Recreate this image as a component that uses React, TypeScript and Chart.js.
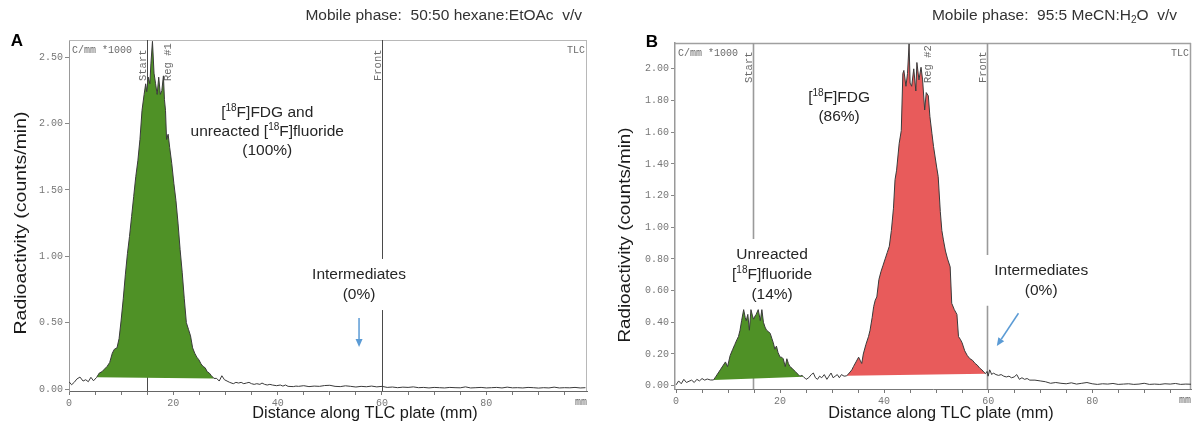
import React, { useEffect, useRef } from 'react';
import { Chart, registerables } from 'chart.js';

Chart.register(...registerables);

type Pt = [number, number];

// ================= Panel A : 50:50 hexane:EtOAc =================
const traceA_before: Pt[] = [
  [0, 0.055], [0.5, 0.032], [1, 0.05], [1.5, 0.075], [2.1, 0.09], [2.7, 0.06],
  [3.2, 0.07], [3.7, 0.055], [4.2, 0.088], [4.7, 0.062],
];
const peakA_fdgFluoride: Pt[] = [
  [5.3, 0.088], [5.8, 0.12], [6.3, 0.13], [6.8, 0.15], [7.3, 0.17], [7.8, 0.2],
  [8.3, 0.27], [8.7, 0.3], [9.2, 0.31], [9.6, 0.38], [10.0, 0.52], [10.4, 0.68],
  [10.8, 0.86], [11.2, 1.02], [11.6, 1.15], [12.0, 1.3], [12.4, 1.45], [12.8, 1.6],
  [13.2, 1.72], [13.6, 1.88], [14.0, 2.1], [14.4, 2.22], [14.7, 2.3], [14.9, 2.24],
  [15.2, 2.35], [15.5, 2.3], [15.7, 2.45], [16.0, 2.62], [16.3, 2.38], [16.6, 2.3],
  [16.9, 2.22], [17.2, 2.35], [17.5, 2.22], [17.8, 2.25], [18.1, 2.36], [18.3, 2.18],
  [18.5, 2.1], [18.7, 1.88], [19.0, 1.92], [19.3, 1.82], [19.7, 1.7], [20.1, 1.55],
  [20.5, 1.42], [20.9, 1.25], [21.3, 1.05], [21.7, 0.88], [22.1, 0.68], [22.5, 0.5],
  [22.9, 0.45], [23.3, 0.4], [23.7, 0.31], [24.1, 0.27], [24.5, 0.24], [24.9, 0.22],
  [25.3, 0.19], [25.7, 0.17], [26.1, 0.16], [26.5, 0.13], [26.9, 0.12], [27.3, 0.1],
  [27.8, 0.08],
];
const regionA_baseline: Pt[] = [[5.3, 0.088], [27.8, 0.08]];
const traceA_after: Pt[] = [
  [28.3, 0.08], [28.8, 0.06], [29.3, 0.1], [29.8, 0.07], [30.3, 0.06], [30.8, 0.05],
  [31.5, 0.04], [32, 0.05], [32.5, 0.045], [33, 0.05], [33.5, 0.04], [34, 0.045],
  [34.5, 0.05], [35, 0.04], [35.5, 0.035], [36, 0.04], [36.6, 0.035], [37, 0.045],
  [37.5, 0.035], [38, 0.03], [38.5, 0.035], [39, 0.03], [39.8, 0.025], [40.5, 0.03],
  [41, 0.022], [41.5, 0.03], [42, 0.02], [43, 0.018], [43.5, 0.022], [44, 0.02],
  [45, 0.025], [46, 0.018], [47, 0.022], [48, 0.02], [49, 0.026], [50, 0.028],
  [51, 0.02], [52, 0.018], [53, 0.024], [54, 0.02], [55, 0.015], [56, 0.02],
  [57, 0.017], [58, 0.022], [59, 0.016], [60, 0.02], [61, 0.012], [62, 0.015],
  [63, 0.01], [64, 0.014], [65, 0.012], [66, 0.016], [67, 0.01], [68, 0.012],
  [69, 0.008], [70, 0.012], [71, 0.01], [72, 0.008], [73, 0.012], [74, 0.01],
  [75, 0.009], [76, 0.016], [77, 0.008], [78, 0.01], [79, 0.012], [80, 0.008],
  [81, 0.01], [82, 0.012], [83, 0.008], [84, 0.014], [85, 0.009], [86, 0.01],
  [87, 0.008], [88, 0.012], [89, 0.01], [90, 0.007], [91, 0.01], [92, 0.008],
  [93, 0.014], [94, 0.008], [95, 0.01], [96, 0.009], [97, 0.012], [98, 0.008], [99, 0.01],
];

// ================= Panel B : 95:5 MeCN:H2O =================
const traceB_before: Pt[] = [
  [0, 0.005], [0.5, 0.03], [1, 0.012], [1.5, 0.04], [2, 0.02], [2.5, 0.028],
  [3, 0.035], [3.5, 0.02], [4, 0.04], [4.5, 0.03], [5, 0.045], [5.5, 0.035],
  [6, 0.042], [6.6, 0.036],
];
const peakB_fluoride: Pt[] = [
  [7.2, 0.036], [7.7, 0.06], [8.1, 0.08], [8.5, 0.1], [9.1, 0.13], [9.5, 0.15],
  [9.9, 0.12], [10.4, 0.19], [10.9, 0.23], [11.3, 0.26], [11.7, 0.29], [12.0, 0.31],
  [12.3, 0.35], [12.6, 0.41], [13.0, 0.48], [13.3, 0.43], [13.5, 0.41], [13.8, 0.45],
  [14.1, 0.35], [14.4, 0.48], [14.7, 0.44], [14.9, 0.42], [15.2, 0.44], [15.4, 0.45],
  [15.8, 0.48], [16.2, 0.41], [16.5, 0.48], [16.8, 0.4], [17.1, 0.37], [17.4, 0.35],
  [17.8, 0.34], [18.1, 0.33], [18.4, 0.3], [18.7, 0.27], [19.0, 0.23], [19.3, 0.25],
  [19.6, 0.21], [20.0, 0.18], [20.3, 0.18], [20.6, 0.17], [21.0, 0.12], [21.3, 0.17],
  [21.6, 0.14], [21.9, 0.12], [22.3, 0.11], [22.6, 0.1], [22.9, 0.09], [23.2, 0.08],
  [23.5, 0.07], [23.8, 0.06], [24.2, 0.065], [24.5, 0.057],
];
const regionB1_baseline: Pt[] = [[7.2, 0.036], [24.5, 0.057]];
const traceB_between: Pt[] = [
  [25, 0.04], [25.5, 0.05], [26, 0.07], [26.4, 0.08], [26.8, 0.05], [27.2, 0.04],
  [27.6, 0.06], [28, 0.05], [28.5, 0.07], [29, 0.04], [29.4, 0.06], [29.8, 0.08],
  [30.2, 0.05], [30.6, 0.06], [31, 0.07], [31.4, 0.05], [31.8, 0.07], [32.3, 0.06],
];
const peakB_fdg: Pt[] = [
  [32.8, 0.062], [33.3, 0.08], [33.8, 0.1], [34.1, 0.12], [34.6, 0.15], [35.1, 0.18],
  [35.4, 0.16], [35.7, 0.14], [36.0, 0.2], [36.5, 0.26], [37.0, 0.31], [37.3, 0.35],
  [37.7, 0.43], [38.0, 0.5], [38.3, 0.54], [38.6, 0.56], [39.0, 0.67], [39.4, 0.72],
  [39.8, 0.76], [40.2, 0.8], [40.6, 0.84], [41.0, 0.88], [41.4, 0.98], [41.8, 1.12],
  [42.1, 1.3], [42.4, 1.36], [42.9, 1.53], [43.3, 1.61], [43.6, 1.97], [43.8, 1.99],
  [44.2, 1.89], [44.5, 1.97], [44.8, 2.157], [45.0, 1.91], [45.3, 1.89], [45.7, 2.0],
  [46.1, 1.86], [46.3, 2.04], [46.7, 1.93], [47.1, 2.01], [47.4, 1.93], [47.8, 1.74],
  [48.1, 1.85], [48.5, 1.83], [48.8, 1.7], [49.2, 1.59], [49.5, 1.51], [50.1, 1.38],
  [50.4, 1.32], [50.8, 1.1], [51.1, 0.98], [51.4, 0.92], [51.8, 0.85], [52.2, 0.8],
  [52.7, 0.75], [53.0, 0.52], [53.5, 0.48], [54.0, 0.45], [54.3, 0.31], [54.7, 0.29],
  [55.0, 0.27], [55.5, 0.22], [56.0, 0.19], [56.5, 0.17], [57.0, 0.16], [57.5, 0.14],
  [57.9, 0.13], [58.4, 0.11], [58.8, 0.1], [59.2, 0.085], [59.5, 0.076],
];
const regionB2_baseline: Pt[] = [[32.8, 0.062], [59.5, 0.076]];
const traceB_after: Pt[] = [
  [59.8, 0.09], [60.0, 0.06], [60.3, 0.1], [60.7, 0.07], [61, 0.08], [61.5, 0.07],
  [62, 0.065], [62.5, 0.07], [63, 0.06], [63.5, 0.055], [64, 0.06], [64.5, 0.05],
  [65, 0.055], [65.5, 0.07], [66, 0.04], [66.5, 0.05], [67, 0.04], [67.5, 0.045],
  [68, 0.035], [69, 0.035], [70, 0.03], [71, 0.025], [72, 0.015], [73, 0.02],
  [74, 0.015], [75, 0.012], [76, 0.018], [77, 0.01], [78, 0.015], [79, 0.02],
  [80, 0.012], [81, 0.008], [82, 0.012], [83, 0.01], [84, 0.014], [85, 0.008],
  [86, 0.01], [87, 0.012], [88, 0.008], [89, 0.01], [90, 0.015], [91, 0.008],
  [92, 0.01], [93, 0.008], [94, 0.012], [95, 0.01], [96, 0.014], [97, 0.008],
  [98, 0.01], [99, 0.009],
];

// ================= Text =================
const titleA = 'Mobile phase:  50:50 hexane:EtOAc  v/v';
const titleB = 'Mobile phase:  95:5 MeCN:H_2_O  v/v';
const xTitle = 'Distance along TLC plate (mm)';
const yTitle = 'Radioactivity (counts/min)';

const SANS = "'Liberation Sans', Arial, Helvetica, sans-serif";
const MONO = "'Liberation Mono', 'DejaVu Sans Mono', monospace";
const GREEN = '#4f9126';
const RED = '#e85b5b';

const toXY = (a: Pt[]) => a.map(([x, y]) => ({ x, y }));

function parseRich(s: string) {
  const segs: { t: string; mode: number }[] = [];
  let mode = 0;
  let buf = '';
  for (const ch of s) {
    if (ch === '^' || ch === '_') {
      if (buf) segs.push({ t: buf, mode });
      buf = '';
      const m = ch === '^' ? 1 : -1;
      mode = mode === m ? 0 : m;
    } else buf += ch;
  }
  if (buf) segs.push({ t: buf, mode });
  return segs;
}

function drawRich(ctx: CanvasRenderingContext2D, s: string, x: number, y: number, size: number,
  color: string, align: 'left' | 'center' | 'right' = 'center', weight = '') {
  const segs = parseRich(s);
  const big = `${weight} ${size}px ${SANS}`;
  const small = `${weight} ${Math.round(size * 0.66)}px ${SANS}`;
  let w = 0;
  for (const sg of segs) { ctx.font = sg.mode ? small : big; w += ctx.measureText(sg.t).width; }
  let cx = align === 'center' ? x - w / 2 : align === 'right' ? x - w : x;
  ctx.fillStyle = color;
  ctx.textAlign = 'left';
  ctx.textBaseline = 'middle';
  for (const sg of segs) {
    ctx.font = sg.mode ? small : big;
    const dy = sg.mode === 1 ? -size * 0.33 : sg.mode === -1 ? size * 0.3 : 0;
    ctx.fillText(sg.t, cx, y + dy);
    cx += ctx.measureText(sg.t).width;
  }
}

type Panel = {
  canvasLeft: number; canvasWidth: number;
  top: number; yAxisW: number; xAxisH: number; padRight: number;
  xMin: number; xMax: number; yMin: number; yMax: number; yStep: number;
  trace: Pt[];
  regions: { peak: Pt[]; base: Pt[]; color: string }[];
  frameColor: string; frameW: number; axisColor: string;
  markers: { mm: number; gaps: [number, number][]; color: string; width: number }[];
  vLabels: { mm: number; text: string }[];
  vLabelStart: number;
  notes: { lines: string[]; mm: number; v: number; lh: number }[];
  arrows: { from: Pt; to: Pt }[];
  title: string; titleRight: number;
  letter: string; letterX: number; letterY: number;
  yTitleX: number; yTitleY: number; yTitleLen: number;
  xTitleX: number;
};

const panelA: Panel = {
  canvasLeft: 0, canvasWidth: 597,
  top: 40, yAxisW: 69, xAxisH: 36, padRight: 10,
  xMin: 0, xMax: 99.3, yMin: -0.015, yMax: 2.63, yStep: 0.5,
  trace: [...traceA_before, ...peakA_fdgFluoride, ...traceA_after],
  regions: [{ peak: peakA_fdgFluoride, base: regionA_baseline, color: GREEN }],
  frameColor: '#b8b8b8', frameW: 1, axisColor: '#666',
  markers: [
    { mm: 15, gaps: [], color: '#4a4a4a', width: 1 },
    { mm: 60, gaps: [[0.98, 0.595]], color: '#4a4a4a', width: 1 },
  ],
  vLabels: [{ mm: 15, text: 'Start' }, { mm: 19.75, text: 'Reg #1' }, { mm: 60, text: 'Front' }],
  vLabelStart: 41,
  notes: [
    { lines: ['[^18^F]FDG and', 'unreacted [^18^F]fluoride', '(100%)'], mm: 38, v: 2.08, lh: 19 },
    { lines: ['Intermediates', '(0%)'], mm: 55.6, v: 0.86, lh: 20 },
  ],
  arrows: [{ from: [55.6, 0.535], to: [55.6, 0.317] }],
  title: titleA, titleRight: 582,
  letter: 'A', letterX: 17, letterY: 41,
  yTitleX: 21, yTitleY: 223, yTitleLen: 223,
  xTitleX: 365,
};

const panelB: Panel = {
  canvasLeft: 597, canvasWidth: 596,
  top: 43, yAxisW: 78, xAxisH: 38, padRight: 2,
  xMin: -0.2, xMax: 99.0, yMin: -0.021, yMax: 2.163, yStep: 0.2,
  trace: [...traceB_before, ...peakB_fluoride, ...traceB_between, ...peakB_fdg, ...traceB_after],
  regions: [
    { peak: peakB_fluoride, base: regionB1_baseline, color: GREEN },
    { peak: peakB_fdg, base: regionB2_baseline, color: RED },
  ],
  frameColor: '#a0a0a0', frameW: 1.5, axisColor: '#777',
  markers: [
    { mm: 14.8, gaps: [[0.926, 0.3]], color: '#9a9a9a', width: 1.6 },
    { mm: 59.8, gaps: [[0.825, 0.505]], color: '#9a9a9a', width: 1.6 },
  ],
  vLabels: [{ mm: 14.8, text: 'Start' }, { mm: 49.3, text: 'Reg #2' }, { mm: 59.8, text: 'Front' }],
  vLabelStart: 40,
  notes: [
    { lines: ['[^18^F]FDG', '(86%)'], mm: 31.35, v: 1.816, lh: 19 },
    { lines: ['Unreacted', '[^18^F]fluoride', '(14%)'], mm: 18.46, v: 0.825, lh: 20 },
    { lines: ['Intermediates', '(0%)'], mm: 70.2, v: 0.724, lh: 20 },
  ],
  arrows: [{ from: [65.83, 0.457], to: [61.67, 0.251] }],
  title: titleB, titleRight: 580,
  letter: 'B', letterX: 55, letterY: 42.5,
  yTitleX: 28, yTitleY: 235, yTitleLen: 215,
  xTitleX: 344,
};

function overlayPlugin(p: Panel) {
  return {
    id: 'tlcOverlay',
    beforeDatasetsDraw(chart: any) {
      const { ctx, chartArea: a, scales } = chart;
      const x = scales.x, y = scales.y;
      ctx.save();
      // top and right frame
      ctx.strokeStyle = p.frameColor;
      ctx.lineWidth = p.frameW;
      ctx.beginPath();
      ctx.moveTo(a.left, a.top + 0.5);
      ctx.lineTo(a.right, a.top + 0.5);
      ctx.moveTo(a.right - 0.5, a.top);
      ctx.lineTo(a.right - 0.5, a.bottom);
      ctx.stroke();
      // Start / Front marker lines
      for (const m of p.markers) {
        const px = Math.round(x.getPixelForValue(m.mm)) + 0.5;
        ctx.strokeStyle = m.color;
        ctx.lineWidth = m.width;
        let cur = a.top;
        ctx.beginPath();
        for (const [hi, lo] of m.gaps) {
          const g1 = y.getPixelForValue(hi), g2 = y.getPixelForValue(lo);
          ctx.moveTo(px, cur); ctx.lineTo(px, g1);
          cur = g2;
        }
        ctx.moveTo(px, cur); ctx.lineTo(px, a.bottom);
        ctx.stroke();
      }
      ctx.restore();
    },
    afterDatasetsDraw(chart: any) {
      const { ctx, chartArea: a, scales } = chart;
      const x = scales.x, y = scales.y;
      ctx.save();
      // rotated scanner labels
      ctx.fillStyle = '#6a6a6a';
      ctx.font = `10.5px ${MONO}`;
      for (const l of p.vLabels) {
        const px = x.getPixelForValue(l.mm) - 1;
        ctx.save();
        ctx.translate(px, a.top + p.vLabelStart);
        ctx.rotate(-Math.PI / 2);
        ctx.textAlign = 'left';
        ctx.textBaseline = 'alphabetic';
        ctx.fillText(l.text, 0, 0);
        ctx.restore();
      }
      ctx.font = `10px ${MONO}`;
      ctx.textBaseline = 'alphabetic';
      ctx.textAlign = 'left';
      ctx.fillText('C/mm *1000', a.left + 3, a.top + 13);
      ctx.textAlign = 'right';
      ctx.fillText('TLC', a.right - 2, a.top + 13);
      // annotations
      for (const n of p.notes) {
        const cx = x.getPixelForValue(n.mm);
        const cy = y.getPixelForValue(n.v);
        n.lines.forEach((ln, i) => drawRich(ctx, ln, cx, cy + i * n.lh, 15.5, '#262626'));
      }
      // arrows
      ctx.strokeStyle = '#5b9bd5';
      ctx.fillStyle = '#5b9bd5';
      ctx.lineWidth = 1.5;
      for (const ar of p.arrows) {
        const x1 = x.getPixelForValue(ar.from[0]), y1 = y.getPixelForValue(ar.from[1]);
        const x2 = x.getPixelForValue(ar.to[0]), y2 = y.getPixelForValue(ar.to[1]);
        const ang = Math.atan2(y2 - y1, x2 - x1);
        const hl = 8, hw = 3.5;
        const bx = x2 - hl * Math.cos(ang), by = y2 - hl * Math.sin(ang);
        ctx.beginPath(); ctx.moveTo(x1, y1); ctx.lineTo(bx, by); ctx.stroke();
        ctx.beginPath();
        ctx.moveTo(x2, y2);
        ctx.lineTo(bx + hw * Math.sin(ang), by - hw * Math.cos(ang));
        ctx.lineTo(bx - hw * Math.sin(ang), by + hw * Math.cos(ang));
        ctx.closePath(); ctx.fill();
      }
      ctx.restore();
    },
    afterDraw(chart: any) {
      const { ctx, chartArea: a } = chart;
      ctx.save();
      // "mm" unit at the end of x axis
      ctx.fillStyle = '#666';
      ctx.font = `10px ${MONO}`;
      ctx.textAlign = 'right';
      ctx.textBaseline = 'middle';
      ctx.fillText('mm', a.right, a.bottom + 11);
      // mobile-phase title
      drawRich(ctx, p.title, p.titleRight, 16, 15.5, '#333', 'right');
      // panel letter
      drawRich(ctx, p.letter, p.letterX, p.letterY, 17, '#000', 'center', 'bold');
      // x title
      drawRich(ctx, xTitle, p.xTitleX, 414, 16.3, '#1a1a1a', 'center');
      // y title (rotated)
      ctx.translate(p.yTitleX, p.yTitleY);
      ctx.rotate(-Math.PI / 2);
      ctx.font = `16.5px ${SANS}`;
      const w = ctx.measureText(yTitle).width;
      ctx.scale(p.yTitleLen / w, 1);
      ctx.fillStyle = '#1a1a1a';
      ctx.textAlign = 'center';
      ctx.textBaseline = 'middle';
      ctx.fillText(yTitle, 0, 0);
      ctx.restore();
    },
  };
}

function buildConfig(p: Panel): any {
  const datasets: any[] = [
    {
      data: toXY(p.trace), borderColor: '#3a3a3a', borderWidth: 1, pointRadius: 0,
      fill: false, tension: 0,
    },
  ];
  p.regions.forEach((r) => {
    const baseIndex = datasets.length + 1;
    datasets.push({
      data: toXY(r.peak), borderColor: 'transparent', borderWidth: 0, pointRadius: 0,
      backgroundColor: r.color, fill: baseIndex, tension: 0,
    });
    datasets.push({
      data: toXY(r.base), borderColor: 'transparent', borderWidth: 0, pointRadius: 0,
      fill: false, tension: 0,
    });
  });
  const tickFont = { family: MONO, size: 10 };
  return {
    type: 'line',
    data: { datasets },
    options: {
      responsive: false,
      animation: false,
      events: [],
      layout: { padding: { left: 0, right: p.padRight, top: p.top, bottom: 0 } },
      plugins: {
        legend: { display: false },
        tooltip: { enabled: false },
        title: { display: false },
        filler: { propagate: false },
      },
      scales: {
        x: {
          type: 'linear', min: p.xMin, max: p.xMax,
          afterFit: (s: any) => { s.height = p.xAxisH; },
          ticks: {
            stepSize: 5, includeBounds: false, autoSkip: false, maxRotation: 0,
            font: tickFont, color: '#777', padding: 2,
            callback: (v: any) => (Number(v) % 20 === 0 ? String(v) : ''),
          },
          grid: { display: true, drawOnChartArea: false, drawTicks: true, tickLength: 4, color: '#777' },
          border: { display: true, color: p.axisColor, width: 1 },
        },
        y: {
          type: 'linear', min: p.yMin, max: p.yMax,
          afterFit: (s: any) => { s.width = p.yAxisW; },
          ticks: {
            stepSize: p.yStep, includeBounds: false, autoSkip: false,
            font: tickFont, color: '#777', padding: 2,
            callback: (v: any) => Number(v).toFixed(2),
          },
          grid: { display: true, drawOnChartArea: false, drawTicks: true, tickLength: 4, color: '#888' },
          border: { display: true, color: '#999', width: p.frameW },
        },
      },
    },
    plugins: [overlayPlugin(p)],
  };
}

export default function App() {
  const refA = useRef<HTMLCanvasElement>(null);
  const refB = useRef<HTMLCanvasElement>(null);
  useEffect(() => {
    const a = new Chart(refA.current as HTMLCanvasElement, buildConfig(panelA));
    const b = new Chart(refB.current as HTMLCanvasElement, buildConfig(panelB));
    return () => { a.destroy(); b.destroy(); };
  }, []);
  return (
    <div style={{ position: 'absolute', left: 0, top: 0, width: 1193, height: 427, background: '#fff' }}>
      <canvas ref={refA} width={panelA.canvasWidth} height={427}
        style={{ position: 'absolute', left: panelA.canvasLeft, top: 0 }} />
      <canvas ref={refB} width={panelB.canvasWidth} height={427}
        style={{ position: 'absolute', left: panelB.canvasLeft, top: 0 }} />
    </div>
  );
}
